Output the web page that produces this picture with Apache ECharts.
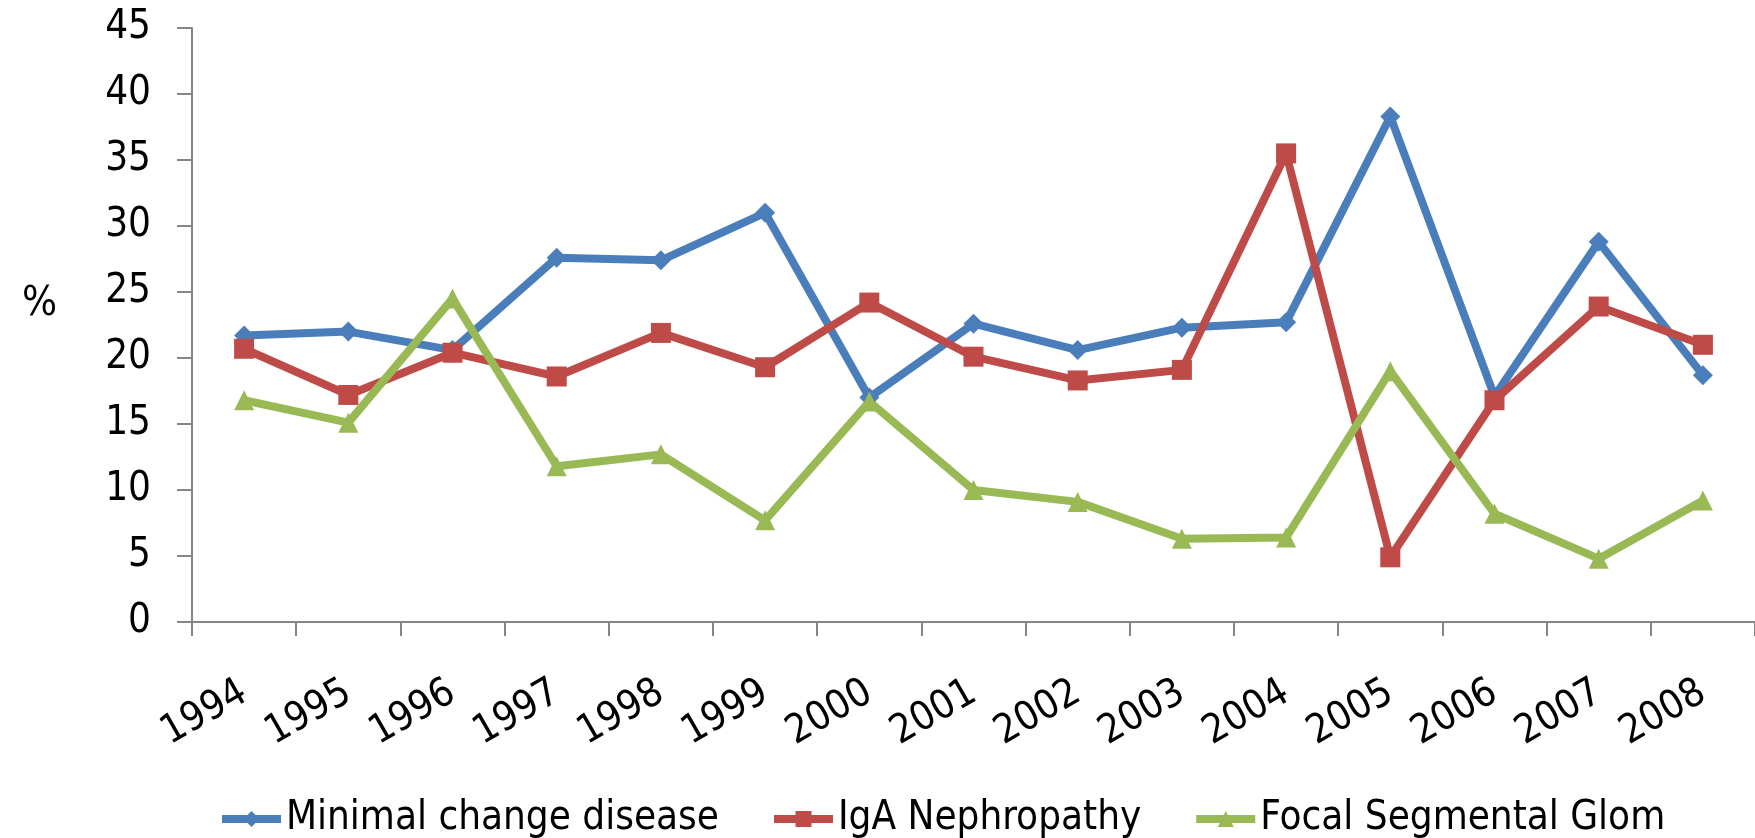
<!DOCTYPE html>
<html>
<head>
<meta charset="utf-8">
<script src="https://cdn.jsdelivr.net/npm/echarts@6/dist/echarts.min.js"></script>
<style>
html,body{margin:0;padding:0;background:#fff;}
#chart{width:1755px;height:838px;}
</style>
</head>
<body>
<div id="chart"></div>
<script>
var years = ['1994','1995','1996','1997','1998','1999','2000','2001','2002','2003','2004','2005','2006','2007','2008'];
var minimalChange = [21.7, 22.0, 20.6, 27.6, 27.4, 31.0, 17.0, 22.6, 20.6, 22.3, 22.7, 38.3, 17.1, 28.8, 18.7];
var igaNephropathy = [20.7, 17.2, 20.4, 18.6, 21.9, 19.3, 24.2, 20.1, 18.3, 19.1, 35.5, 4.9, 16.8, 23.9, 21.0];
var focalSegmental = [16.8, 15.1, 24.5, 11.8, 12.7, 7.7, 16.7, 10.0, 9.1, 6.3, 6.4, 19.0, 8.2, 4.8, 9.2];
var seriesNames = ['Minimal change disease', 'IgA Nephropathy', 'Focal Segmental Glom'];

var FONT = "'DejaVu Sans Condensed', 'DejaVu Sans', sans-serif";
var chart = echarts.init(document.getElementById('chart'), null, {renderer: 'canvas'});

function mk(name, data, color, symbol, size) {
  return {
    name: name,
    type: 'line',
    data: data,
    symbol: symbol,
    symbolSize: size,
    showAllSymbol: true,
    lineStyle: {color: color, width: 8},
    itemStyle: {color: color},
    emphasis: {disabled: true},
    animation: false
  };
}

chart.setOption({
  backgroundColor: '#ffffff',
  animation: false,
  title: {
    text: '%',
    left: 17,
    top: 279,
    textStyle: {fontFamily: FONT, fontSize: 41, fontWeight: 'normal', color: '#000'}
  },
  grid: {left: 192, right: -12, top: 28, bottom: 216, containLabel: false},
  legend: {
    left: 213,
    top: 794,
    itemWidth: 59,
    itemHeight: 20,
    itemGap: 51,
    lineStyle: {width: 8},
    textStyle: {fontFamily: FONT, fontSize: 40, color: '#000'},
    data: seriesNames
  },
  xAxis: {
    type: 'category',
    data: years,
    boundaryGap: true,
    axisLine: {lineStyle: {color: '#868686', width: 2}},
    axisTick: {show: true, length: 14, lineStyle: {color: '#868686', width: 2}, alignWithLabel: false},
    axisLabel: {rotate: 30, margin: 68, fontFamily: FONT, fontSize: 40, color: '#000', interval: 0},
    splitLine: {show: false}
  },
  yAxis: {
    type: 'value',
    min: 0,
    max: 45,
    interval: 5,
    axisLine: {show: true, lineStyle: {color: '#868686', width: 2}},
    axisTick: {show: true, length: 15, lineStyle: {color: '#868686', width: 2}},
    axisLabel: {margin: 41, fontFamily: FONT, fontSize: 40, color: '#000'},
    splitLine: {show: false}
  },
  series: [
    mk(seriesNames[0], minimalChange, '#4A7EBB', 'diamond', 20),
    mk(seriesNames[1], igaNephropathy, '#BE4B48', 'rect', 20),
    mk(seriesNames[2], focalSegmental, '#98B954', 'triangle', 20)
  ]
});
</script>
</body>
</html>
